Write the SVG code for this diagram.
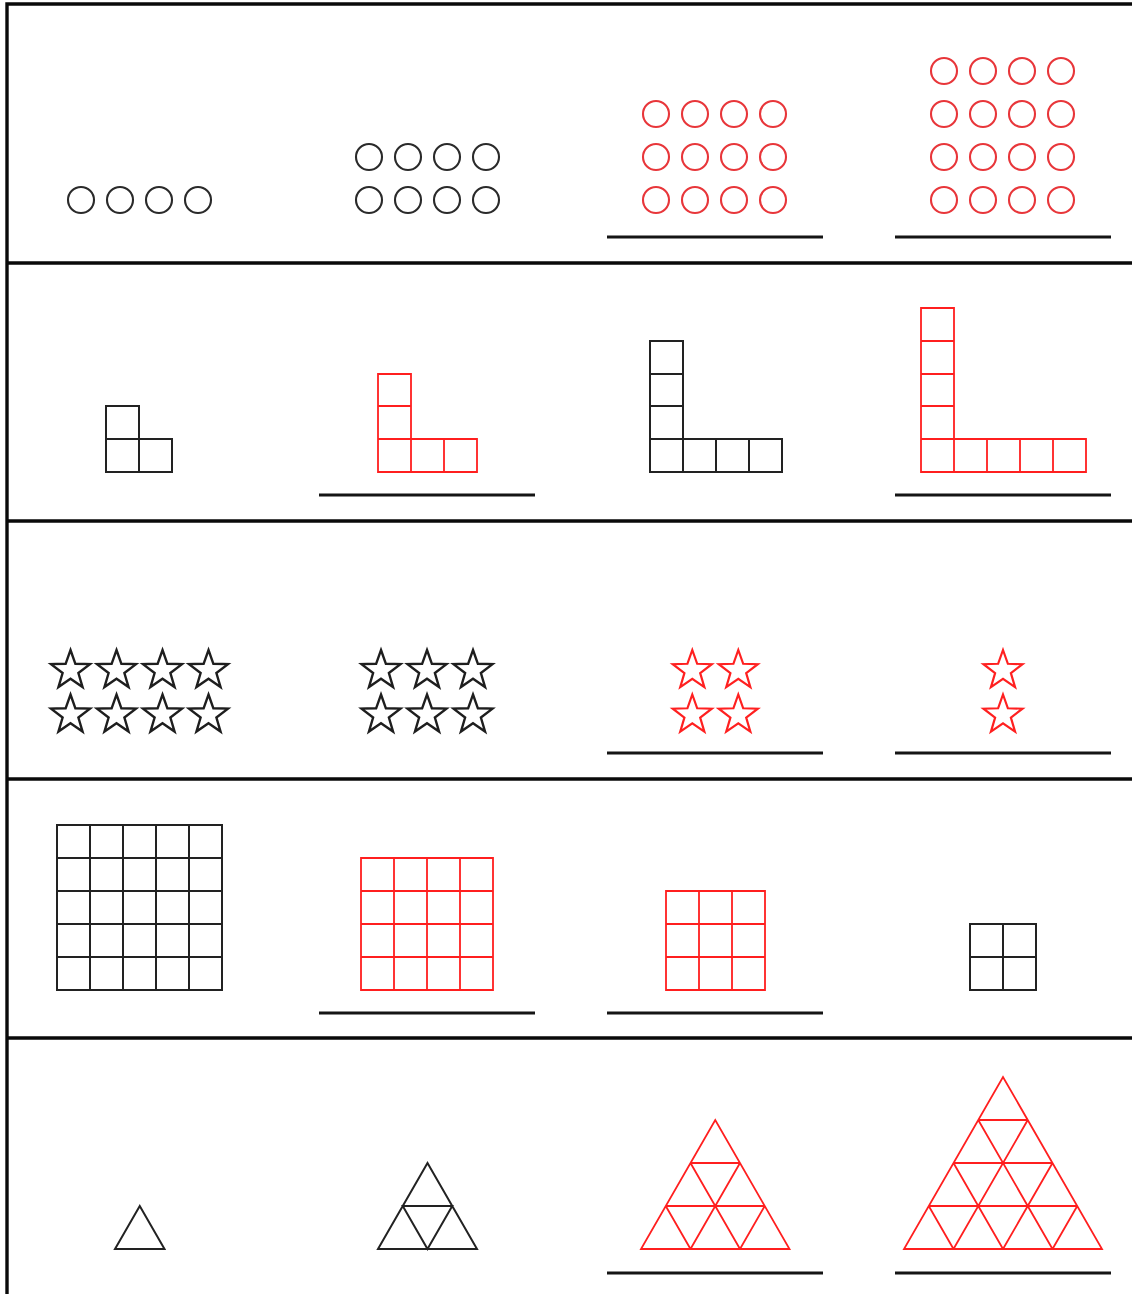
<svg xmlns="http://www.w3.org/2000/svg" width="1132" height="1294" viewBox="0 0 1132 1294">
<defs>
<style>
.fr{stroke:#0a0a0a;stroke-width:3.4;fill:none}
.ul{stroke:#151515;stroke-width:2.8;fill:none}
.b{stroke:#222;fill:none;stroke-width:2}
.r{stroke:#ff1f1f;fill:none;stroke-width:1.8}
.cb{stroke:#2a2a2a;fill:none;stroke-width:2.1}
.cr{stroke:#e8363a;fill:none;stroke-width:2.1}
.sb{stroke:#1e1e1e;fill:none;stroke-width:2.4;stroke-linejoin:miter}
.sr{stroke:#ff2020;fill:none;stroke-width:2.2;stroke-linejoin:miter}
</style>
<circle id="c" r="13"/>
<path id="st" d="M0,-20.5 L4.88,-6.71 L19.5,-6.33 L7.89,2.56 L12.05,16.58 L0,8.3 L-12.05,16.58 L-7.89,2.56 L-19.5,-6.33 L-4.88,-6.71 Z"/>
</defs>
<rect width="1132" height="1294" fill="#fff"/>
<g id="frame">
<path class="fr" d="M7,4 V1294 M5.3,4 H1132 M7,263 H1132 M7,521 H1132 M7,779 H1132 M7,1038 H1132"/>
</g>
<g id="underlines">
<path class="ul" d="M607,237 H823 M895,237 H1111 M319,495 H535 M895,495 H1111 M607,753 H823 M895,753 H1111 M319,1013 H535 M607,1013 H823 M607,1273 H823 M895,1273 H1111"/>
</g>
<g id="row1-col1" class="cb">
<use href="#c" x="81" y="200"/><use href="#c" x="120" y="200"/><use href="#c" x="159" y="200"/><use href="#c" x="198" y="200"/>
</g>
<g id="row1-col2" class="cb">
<use href="#c" x="369" y="157"/><use href="#c" x="408" y="157"/><use href="#c" x="447" y="157"/><use href="#c" x="486" y="157"/>
<use href="#c" x="369" y="200"/><use href="#c" x="408" y="200"/><use href="#c" x="447" y="200"/><use href="#c" x="486" y="200"/>
</g>
<g id="row1-col3" class="cr">
<use href="#c" x="656" y="114"/><use href="#c" x="695" y="114"/><use href="#c" x="734" y="114"/><use href="#c" x="773" y="114"/>
<use href="#c" x="656" y="157"/><use href="#c" x="695" y="157"/><use href="#c" x="734" y="157"/><use href="#c" x="773" y="157"/>
<use href="#c" x="656" y="200"/><use href="#c" x="695" y="200"/><use href="#c" x="734" y="200"/><use href="#c" x="773" y="200"/>
</g>
<g id="row1-col4" class="cr">
<use href="#c" x="944" y="71"/><use href="#c" x="983" y="71"/><use href="#c" x="1022" y="71"/><use href="#c" x="1061" y="71"/>
<use href="#c" x="944" y="114"/><use href="#c" x="983" y="114"/><use href="#c" x="1022" y="114"/><use href="#c" x="1061" y="114"/>
<use href="#c" x="944" y="157"/><use href="#c" x="983" y="157"/><use href="#c" x="1022" y="157"/><use href="#c" x="1061" y="157"/>
<use href="#c" x="944" y="200"/><use href="#c" x="983" y="200"/><use href="#c" x="1022" y="200"/><use href="#c" x="1061" y="200"/>
</g>
<g id="row2-col1" class="b">
<path d="M106,406 H139 V472 H106 Z M106,439 H172 V472 H139"/>
</g>
<g id="row2-col2" class="r">
<path d="M378,374 H411 V472 H378 Z M378,406 H411 M378,439 H477 V472 H411 M444,439 V472"/>
</g>
<g id="row2-col3" class="b">
<path d="M650,341 H683 V472 H650 Z M650,374 H683 M650,406 H683 M650,439 H782 V472 H683 M716,439 V472 M749,439 V472"/>
</g>
<g id="row2-col4" class="r">
<path d="M921,308 H954 V472 H921 Z M921,341 H954 M921,374 H954 M921,406 H954 M921,439 H1086 V472 H954 M987,439 V472 M1020,439 V472 M1053,439 V472"/>
</g>
<g id="row3-col1" class="sb">
<use href="#st" x="70.5" y="670.5"/><use href="#st" x="116.5" y="670.5"/><use href="#st" x="162.5" y="670.5"/><use href="#st" x="208.5" y="670.5"/>
<use href="#st" x="70.5" y="715"/><use href="#st" x="116.5" y="715"/><use href="#st" x="162.5" y="715"/><use href="#st" x="208.5" y="715"/>
</g>
<g id="row3-col2" class="sb">
<use href="#st" x="381" y="670.5"/><use href="#st" x="427" y="670.5"/><use href="#st" x="473" y="670.5"/>
<use href="#st" x="381" y="715"/><use href="#st" x="427" y="715"/><use href="#st" x="473" y="715"/>
</g>
<g id="row3-col3" class="sr">
<use href="#st" x="692.3" y="670.5"/><use href="#st" x="738.3" y="670.5"/>
<use href="#st" x="692.3" y="715"/><use href="#st" x="738.3" y="715"/>
</g>
<g id="row3-col4" class="sr">
<use href="#st" x="1003" y="670.5"/><use href="#st" x="1003" y="715"/>
</g>
<g id="row4-col1" class="b">
<path d="M57,825 H222 V990 H57 Z M57,858 H222 M57,891 H222 M57,924 H222 M57,957 H222 M90,825 V990 M123,825 V990 M156,825 V990 M189,825 V990"/>
</g>
<g id="row4-col2" class="r">
<path d="M361,858 H493 V990 H361 Z M361,891 H493 M361,924 H493 M361,957 H493 M394,858 V990 M427,858 V990 M460,858 V990"/>
</g>
<g id="row4-col3" class="r">
<path d="M666,891 H765 V990 H666 Z M666,924 H765 M666,957 H765 M699,891 V990 M732,891 V990"/>
</g>
<g id="row4-col4" class="b">
<path d="M970,924 H1036 V990 H970 Z M970,957 H1036 M1003,924 V990"/>
</g>
<g id="row5-col1" class="b">
<path d="M115,1249 H164.5 L139.75,1206 Z"/>
</g>
<g id="row5-col2" class="b">
<path d="M378,1249 H477 L427.5,1163 Z M402.75,1206 H452.25 L427.5,1249 Z"/>
</g>
<g id="row5-col3" class="r">
<path d="M641,1249 H789.5 L715.25,1120 Z M690.5,1163 H740 M665.75,1206 H764.75 M690.5,1249 L740,1163 M690.5,1249 L665.75,1206 M740,1249 L764.75,1206 M740,1249 L690.5,1163"/>
</g>
<g id="row5-col4" class="r">
<path d="M904,1249 H1102 L1003,1077 Z M978.25,1120 H1027.75 M953.5,1163 H1052.5 M928.75,1206 H1077.25 M953.5,1249 L1027.75,1120 M953.5,1249 L928.75,1206 M1003,1249 L1052.5,1163 M1003,1249 L953.5,1163 M1052.5,1249 L1077.25,1206 M1052.5,1249 L978.25,1120"/>
</g>
</svg>
